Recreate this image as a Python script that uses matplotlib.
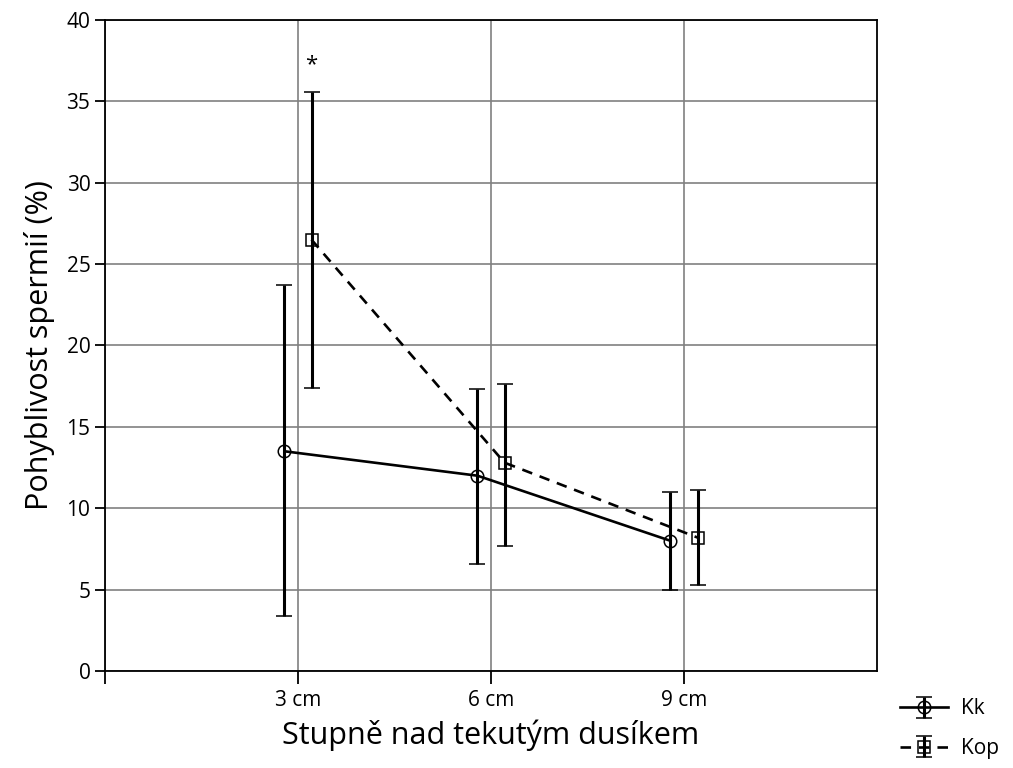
import matplotlib.pyplot as plt
import numpy as np

plt.rcParams['font.family'] = ['Open Sans', 'DejaVu Sans']

# Data
categories = ['3 cm', '6 cm', '9 cm']
kk_mean = [13.5, 12.0, 8.0]
kk_low = [3.4, 6.6, 5.0]
kk_high = [23.7, 17.3, 11.0]
kop_mean = [26.5, 12.8, 8.2]
kop_low = [17.4, 7.7, 5.3]
kop_high = [35.6, 17.65, 11.1]

x = np.arange(1, len(categories) + 1)
offset = 0.07

fig = plt.figure(figsize=(10.13, 7.68), dpi=100)
ax = fig.add_axes([105 / 1013, 1 - 671 / 768, (877 - 105) / 1013, (671 - 20) / 768])

kk_err = [np.array(kk_mean) - np.array(kk_low), np.array(kk_high) - np.array(kk_mean)]
kop_err = [np.array(kop_mean) - np.array(kop_low), np.array(kop_high) - np.array(kop_mean)]

ax.errorbar(x - offset, kk_mean, yerr=kk_err, color='black', linestyle='-', linewidth=1.9,
            marker='o', markersize=9, markerfacecolor='none', markeredgewidth=1.1,
            elinewidth=2.2, capsize=6, capthick=2.2, label='Kk', zorder=3)
ax.errorbar(x + offset, kop_mean, yerr=kop_err, color='black', linestyle=(0, (4, 3)), linewidth=1.9,
            marker='s', markersize=9, markerfacecolor='none', markeredgewidth=1.1,
            elinewidth=2.2, capsize=6, capthick=2.2, label='Kop', zorder=3)

ax.text(x[0] + offset, 36.6, '*', ha='center', va='bottom', fontsize=16)

ax.set_xlim(0, 4)
ax.set_ylim(0, 40)
ax.set_xticks([0] + list(x))
ax.set_xticklabels([''] + categories)
ax.set_yticks(np.arange(0, 41, 5))
ax.grid(True, color='#808080', linewidth=1.2)
ax.set_axisbelow(True)
for s in ax.spines.values():
    s.set_linewidth(1.3)
ax.tick_params(axis='both', labelsize=15, width=1.3, colors='black')
ax.tick_params(axis='y', length=7)
ax.tick_params(axis='x', length=9, pad=5)

ax.set_xlabel('Stupně nad tekutým dusíkem', fontsize=22, labelpad=6)
ax.set_ylabel('Pohyblivost spermií (%)', fontsize=22, labelpad=8)

fig.legend(loc='upper left', bbox_to_anchor=(890 / 1013, 1 - 688 / 768), frameon=False,
           fontsize=15, handlelength=2.3, handletextpad=0.6, labelspacing=0.9, borderpad=0)

fig.savefig('out.png', dpi=100)
